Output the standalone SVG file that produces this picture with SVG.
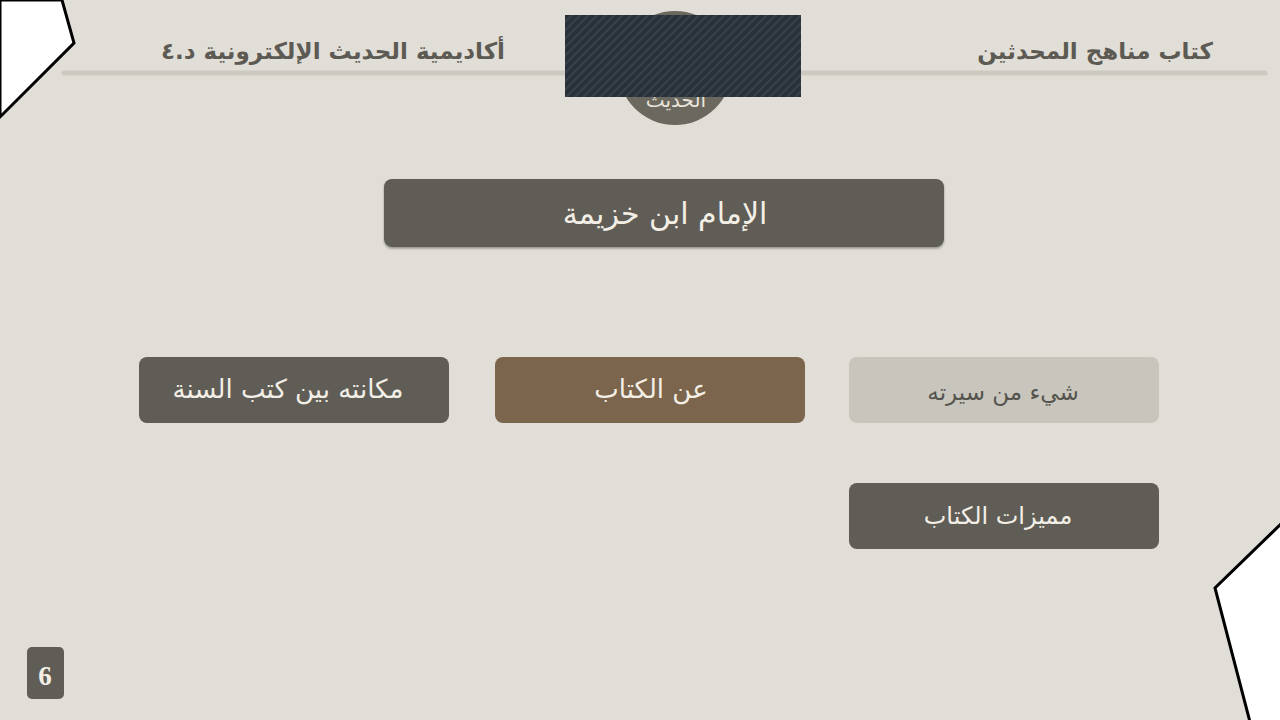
<svg xmlns="http://www.w3.org/2000/svg" width="1280" height="720" viewBox="0 0 1280 720">
<defs>
<pattern id="stripes" width="6" height="6" patternUnits="userSpaceOnUse" patternTransform="rotate(45)">
<rect width="6" height="6" fill="#283039"/>
<rect width="2" height="6" fill="#37414c"/>
</pattern>
<filter id="sh" x="-5%" y="-10%" width="110%" height="130%">
<feDropShadow dx="0" dy="1.5" stdDeviation="1" flood-color="#000" flood-opacity="0.35"/>
</filter>
</defs>
<style>
.hdr{font-family:"DejaVu Sans",sans-serif;font-weight:bold;font-size:23px;fill:#5c5a53}
.lbl{font-family:"DejaVu Sans",sans-serif;font-size:26px;fill:#f3efe6;text-anchor:middle}
.dark{fill:#5f5d56}
.brown{fill:#7b654c}
.light{fill:#c8c5bc}
</style>
<rect width="1280" height="720" fill="#e1ded7"/>
<polygon points="0,0 62,0 74,43 0,117" fill="#fff" stroke="#000" stroke-width="3"/>
<polygon points="1282,523 1215,588 1250,722 1282,722" fill="#fff" stroke="#000" stroke-width="3"/>
<line x1="64" y1="73" x2="1265" y2="73" stroke="#ccc9c0" stroke-width="5" stroke-linecap="round"/>
<text class="hdr" x="505" y="59" text-anchor="end">أكاديمية الحديث الإلكترونية د.٤</text>
<text class="hdr" x="1213" y="59" text-anchor="end">كتاب مناهج المحدثين</text>
<g id="badge">
<circle cx="675" cy="68" r="57" fill="#6b685f"/>
<text x="676" y="107" font-family="DejaVu Sans,sans-serif" font-size="20" fill="#e8e4da" text-anchor="middle">الحديث</text>
<rect x="565" y="15" width="236" height="82" fill="url(#stripes)"/>
</g>
<g id="connectors"/>
<g id="title">
<rect x="384" y="179" width="560" height="68" rx="8" class="dark" filter="url(#sh)"/>
<text class="lbl" x="665" y="224" style="font-size:30px">الإمام ابن خزيمة</text>
</g>
<g id="node-makanatuh">
<rect x="139" y="357" width="310" height="66" rx="8" class="dark"/>
<text class="lbl" x="288" y="398">مكانته بين كتب السنة</text>
</g>
<g id="node-anilkitab">
<rect x="495" y="357" width="310" height="66" rx="8" class="brown"/>
<text class="lbl" x="651" y="398">عن الكتاب</text>
</g>
<g id="node-sirah">
<rect x="849" y="357" width="310" height="66" rx="8" class="light"/>
<text class="lbl" x="1003" y="400" style="fill:#55534d;font-size:23px">شيء من سيرته</text>
</g>
<g id="node-mumayyizat">
<rect x="849" y="483" width="310" height="66" rx="8" class="dark"/>
<text class="lbl" x="998" y="524" style="font-size:24px">مميزات الكتاب</text>
</g>
<g id="page-number">
<rect x="27" y="647" width="37" height="52" rx="5" class="dark"/>
<text x="45" y="685" font-family="Liberation Serif,serif" font-weight="bold" font-size="27" fill="#f3efe6" text-anchor="middle">6</text>
</g>
</svg>
